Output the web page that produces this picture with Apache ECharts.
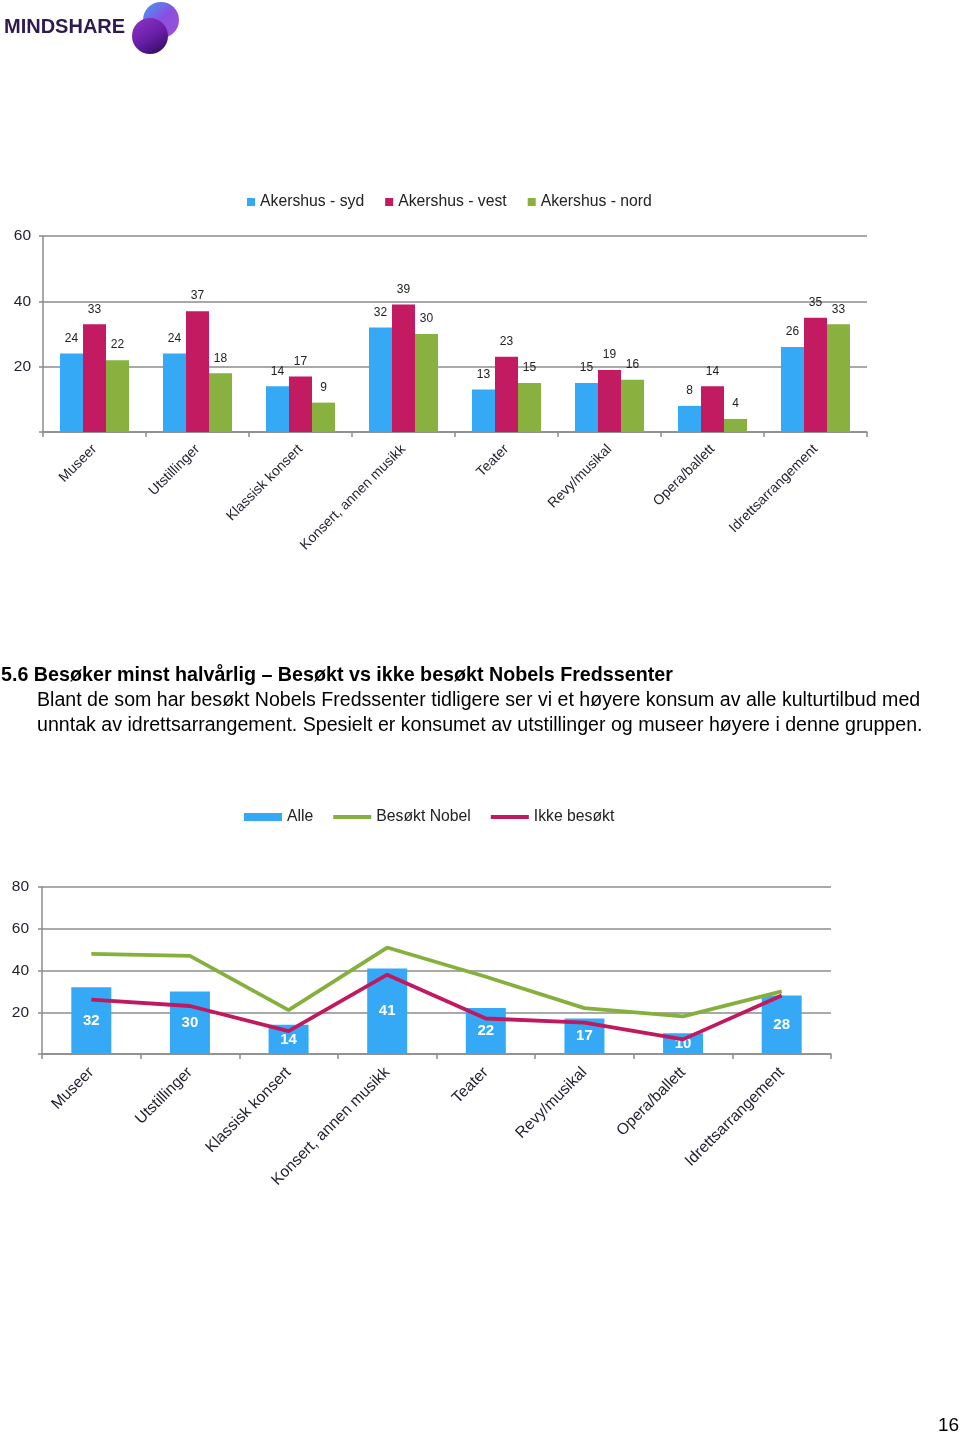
<!DOCTYPE html>
<html>
<head>
<meta charset="utf-8">
<script src="https://cdn.jsdelivr.net/npm/echarts@6/dist/echarts.min.js"></script>
<style>
html,body{margin:0;padding:0;background:#fff;}
#c{width:960px;height:1436px;}
</style>
</head>
<body>
<div id="c"></div>
<script>
var categories = ['Museer','Utstillinger','Klassisk konsert','Konsert, annen musikk','Teater','Revy/musikal','Opera/ballett','Idrettsarrangement'];
var sydValues  = [24,24,14,32,13,15,8,26];
var vestValues = [33,37,17,39,23,19,14,35];
var nordValues = [22,18,9,30,15,16,4,33];
var alleValues  = [32,30,14,41,22,17,10,28];
var nobelValues = [48,47,21,51,37,22,18,30];
var ikkeValues  = [26,23,11,38,17,15,7,28];
var topYTicks = [0,20,40,60];
var bottomYTicks = [0,20,40,60,80];

var FONT = '"Liberation Sans", Arial, Helvetica, sans-serif';
var GRID_C = '#8c8c8c';
var TXT = '#1f1f2e';
var BLUE = '#36A9F6', MAG = '#C21B62', GREEN = '#88B13F';
var NOBEL_C = '#86B03E', IKKE_C = '#C0195F';

function yLabel(v){ return v === 0 ? '' : String(v); }

var chart = echarts.init(document.getElementById('c'), null, {renderer:'canvas'});

function catAxis(idx, fs, margin){
  return {
    gridIndex: idx, type:'category', data: categories,
    axisLine:{show:true, lineStyle:{color:GRID_C, width:1.5}},
    axisTick:{show:true, length:5, lineStyle:{color:GRID_C, width:1.5}},
    axisLabel:{rotate:45, fontSize:fs, color:TXT, fontFamily:FONT, margin:margin, interval:0}
  };
}
function valAxis(idx, ticks, margin){
  return {
    gridIndex: idx, type:'value', min:ticks[0], max:ticks[ticks.length-1], interval:20,
    axisLine:{show:true, lineStyle:{color:GRID_C, width:1.5}},
    axisTick:{show:true, length:4, lineStyle:{color:GRID_C, width:1.5}},
    splitLine:{show:true, lineStyle:{color:GRID_C, width:1.5}},
    axisLabel:{fontSize:15.5, color:TXT, fontFamily:FONT, margin:margin, formatter:yLabel}
  };
}

var topLabel = {show:true, position:'top', distance:9, fontSize:12, color:'#222', fontFamily:FONT};
var bottomLabel = {show:true, position:'inside', fontSize:15, fontWeight:'bold', color:'#fff', fontFamily:FONT};
var lineIcon = 'path://M0,0L38,0L38,4L0,4Z';

var option = {
  animation:false,
  backgroundColor:'#fff',
  textStyle:{fontFamily:FONT},
  legend:[
    {
      data:['Akershus - syd','Akershus - vest','Akershus - nord'],
      left:242, top:189, itemWidth:8, itemHeight:8, itemGap:21, icon:'rect',
      textStyle:{fontSize:15.75, color:'#222', fontFamily:FONT}
    },
    {
      data:[{name:'Alle', icon:'rect'}, {name:'Besøkt Nobel', icon:lineIcon}, {name:'Ikke besøkt', icon:lineIcon}],
      left:239, top:804, itemWidth:38, itemHeight:8, itemGap:20,
      textStyle:{fontSize:15.75, color:'#222', fontFamily:FONT}
    }
  ],
  grid:[
    {left:43, top:236, width:824, height:196, containLabel:false},
    {left:42, top:887, width:789, height:167, containLabel:false}
  ],
  xAxis:[ catAxis(0, 14, 15), catAxis(1, 15.7, 16) ],
  yAxis:[ valAxis(0, topYTicks, 12), valAxis(1, bottomYTicks, 13) ],
  series:[
    {name:'Akershus - syd', type:'bar', xAxisIndex:0, yAxisIndex:0, data:sydValues, itemStyle:{color:BLUE}, barGap:'0%', barCategoryGap:'33%', label:topLabel},
    {name:'Akershus - vest', type:'bar', xAxisIndex:0, yAxisIndex:0, data:vestValues, itemStyle:{color:MAG}, barGap:'0%', barCategoryGap:'33%', label:topLabel},
    {name:'Akershus - nord', type:'bar', xAxisIndex:0, yAxisIndex:0, data:nordValues, itemStyle:{color:GREEN}, barGap:'0%', barCategoryGap:'33%', label:topLabel},
    {name:'Alle', type:'bar', xAxisIndex:1, yAxisIndex:1, data:alleValues, itemStyle:{color:BLUE}, barWidth:40, label:bottomLabel, z:2},
    {name:'Besøkt Nobel', type:'line', xAxisIndex:1, yAxisIndex:1, data:nobelValues, showSymbol:false, symbol:'none', lineStyle:{color:NOBEL_C, width:3.8}, itemStyle:{color:NOBEL_C}, z:3},
    {name:'Ikke besøkt', type:'line', xAxisIndex:1, yAxisIndex:1, data:ikkeValues, showSymbol:false, symbol:'none', lineStyle:{color:IKKE_C, width:3.8}, itemStyle:{color:IKKE_C}, z:3}
  ],
  graphic:[
    {type:'circle', shape:{cx:161, cy:20, r:18}, style:{fill:new echarts.graphic.LinearGradient(0,0,1,1,[{offset:0,color:'#3f9ff2'},{offset:0.5,color:'#8a4fe0'},{offset:1,color:'#a04fd8'}])}, z:10},
    {type:'circle', shape:{cx:150, cy:36, r:18}, style:{fill:new echarts.graphic.LinearGradient(0,0,0.6,1,[{offset:0,color:'#8e35c8'},{offset:0.6,color:'#6a1fa8'},{offset:1,color:'#3d0f6e'}])}, z:11},
    {type:'text', left:4, top:17, style:{text:'MINDSHARE', font:'bold 20px "Liberation Sans", Arial, sans-serif', fill:'#2e1a4e'}, z:12},
    {type:'text', left:1, top:666, style:{text:'5.6 Besøker minst halvårlig – Besøkt vs ikke besøkt Nobels Fredssenter', font:'bold 19.7px "Liberation Sans", Arial, sans-serif', fill:'#000'}},
    {type:'text', left:37, top:691, style:{text:'Blant de som har besøkt Nobels Fredssenter tidligere ser vi et høyere konsum av alle kulturtilbud med', font:'19.6px "Liberation Sans", Arial, sans-serif', fill:'#000'}},
    {type:'text', left:37, top:716, style:{text:'unntak av idrettsarrangement. Spesielt er konsumet av utstillinger og museer høyere i denne gruppen.', font:'19.6px "Liberation Sans", Arial, sans-serif', fill:'#000'}},
    {type:'text', left:938, top:1416, style:{text:'16', font:'19px "Liberation Sans", Arial, sans-serif', fill:'#000'}}
  ]
};
chart.setOption(option);
</script>
</body>
</html>
